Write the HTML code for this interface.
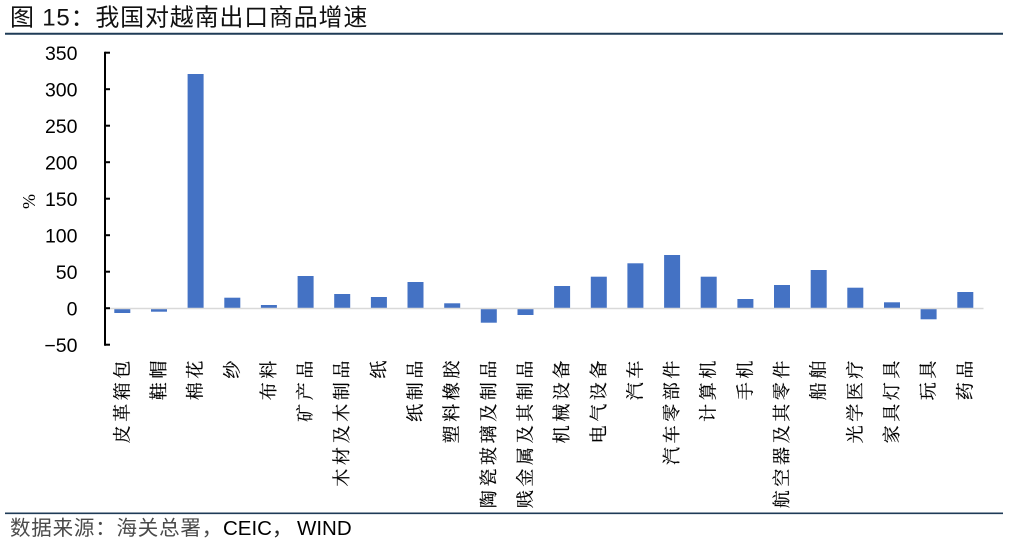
<!DOCTYPE html>
<html><head><meta charset="utf-8"><style>
html,body{margin:0;padding:0;background:#fff;}
svg{display:block;}
</style></head><body>
<svg width="1011" height="544" viewBox="0 0 1011 544" xmlns="http://www.w3.org/2000/svg">
<rect width="1011" height="544" fill="#fff"/>
<text x="10" y="25.5" font-family="'Liberation Sans','Noto Sans CJK SC',sans-serif" font-size="24" letter-spacing="0.8" fill="#111">图 15：我国对越南出口商品增速</text>
<line x1="5" y1="33.7" x2="1003" y2="33.7" stroke="#1f3b57" stroke-width="2"/>

<g font-family="'Liberation Sans',sans-serif" font-size="19.5" fill="#000" text-anchor="end">
<text x="77.5" y="60">350</text>
<text x="77.5" y="96.5">300</text>
<text x="77.5" y="133">250</text>
<text x="77.5" y="169.5">200</text>
<text x="77.5" y="206">150</text>
<text x="77.5" y="242.5">100</text>
<text x="77.5" y="279">50</text>
<text x="77.5" y="315.5">0</text>
<text x="77.5" y="352">−50</text>
</g>
<text transform="translate(29,201.5) rotate(-90)" text-anchor="middle" dominant-baseline="central" font-family="'Liberation Serif',serif" font-size="18" fill="#000">%</text>

<g fill="#4472C4">
<rect x="114.3" y="308.5" width="16" height="4.5"/>
<rect x="151" y="308.5" width="16" height="3.2"/>
<rect x="187.6" y="74" width="16" height="234.5"/>
<rect x="224.3" y="297.7" width="16" height="10.8"/>
<rect x="260.9" y="305" width="16" height="3.5"/>
<rect x="297.6" y="276" width="16" height="32.5"/>
<rect x="334.2" y="294" width="16" height="14.5"/>
<rect x="370.9" y="297" width="16" height="11.5"/>
<rect x="407.5" y="282" width="16" height="26.5"/>
<rect x="444.2" y="303.3" width="16" height="5.2"/>
<rect x="480.8" y="308.5" width="16" height="14.2"/>
<rect x="517.5" y="308.5" width="16" height="6.5"/>
<rect x="554.1" y="286" width="16" height="22.5"/>
<rect x="590.8" y="276.7" width="16" height="31.8"/>
<rect x="627.4" y="263.3" width="16" height="45.2"/>
<rect x="664.1" y="255" width="16" height="53.5"/>
<rect x="700.7" y="276.7" width="16" height="31.8"/>
<rect x="737.4" y="299" width="16" height="9.5"/>
<rect x="774" y="285" width="16" height="23.5"/>
<rect x="810.7" y="270" width="16" height="38.5"/>
<rect x="847.3" y="287.7" width="16" height="20.8"/>
<rect x="884" y="302.3" width="16" height="6.2"/>
<rect x="920.6" y="308.5" width="16" height="10.8"/>
<rect x="957.3" y="292" width="16" height="16.5"/>
</g>
<line x1="105" y1="308.5" x2="983.5" y2="308.5" stroke="#d9d9d9" stroke-width="1.5"/>

<g stroke="#000" stroke-width="2">
<line x1="105" y1="51.7" x2="105" y2="345.7"/>
<line x1="105" y1="52.7" x2="110" y2="52.7"/>
<line x1="105" y1="89.2" x2="110" y2="89.2"/>
<line x1="105" y1="125.7" x2="110" y2="125.7"/>
<line x1="105" y1="162.2" x2="110" y2="162.2"/>
<line x1="105" y1="198.7" x2="110" y2="198.7"/>
<line x1="105" y1="235.2" x2="110" y2="235.2"/>
<line x1="105" y1="271.7" x2="110" y2="271.7"/>
<line x1="105" y1="308.2" x2="110" y2="308.2"/>
<line x1="105" y1="344.7" x2="110" y2="344.7"/>
</g>

<g font-family="'Liberation Serif','Noto Serif CJK SC',serif" font-size="18" letter-spacing="3.6" fill="#000" stroke="#000" stroke-width="0.2" text-anchor="end" dominant-baseline="central">
<text transform="translate(122.3,357) rotate(-90)">皮革箱包</text>
<text transform="translate(159,357) rotate(-90)">鞋帽</text>
<text transform="translate(195.6,357) rotate(-90)">棉花</text>
<text transform="translate(232.3,357) rotate(-90)">纱</text>
<text transform="translate(268.9,357) rotate(-90)">布料</text>
<text transform="translate(305.6,357) rotate(-90)">矿产品</text>
<text transform="translate(342.2,357) rotate(-90)">木材及木制品</text>
<text transform="translate(378.9,357) rotate(-90)">纸</text>
<text transform="translate(415.5,357) rotate(-90)">纸制品</text>
<text transform="translate(452.2,357) rotate(-90)">塑料橡胶</text>
<text transform="translate(488.8,357) rotate(-90)">陶瓷玻璃及制品</text>
<text transform="translate(525.5,357) rotate(-90)">贱金属及其制品</text>
<text transform="translate(562.1,357) rotate(-90)">机械设备</text>
<text transform="translate(598.8,357) rotate(-90)">电气设备</text>
<text transform="translate(635.4,357) rotate(-90)">汽车</text>
<text transform="translate(672.1,357) rotate(-90)">汽车零部件</text>
<text transform="translate(708.7,357) rotate(-90)">计算机</text>
<text transform="translate(745.4,357) rotate(-90)">手机</text>
<text transform="translate(782,357) rotate(-90)">航空器及其零件</text>
<text transform="translate(818.7,357) rotate(-90)">船舶</text>
<text transform="translate(855.3,357) rotate(-90)">光学医疗</text>
<text transform="translate(892,357) rotate(-90)">家具灯具</text>
<text transform="translate(928.6,357) rotate(-90)">玩具</text>
<text transform="translate(965.3,357) rotate(-90)">药品</text>
</g>

<line x1="5" y1="513.3" x2="1003" y2="513.3" stroke="#1f3b57" stroke-width="1.6"/>
<text x="10" y="535" font-family="'Liberation Sans','Noto Sans CJK SC',sans-serif" font-size="20.5" fill="#000"><tspan fill="#4a4a4a" letter-spacing="0.8">数据来源：海关总署，</tspan><tspan x="223">CEIC</tspan><tspan fill="#222">，</tspan><tspan x="297">WIND</tspan></text>
</svg>
</body></html>
